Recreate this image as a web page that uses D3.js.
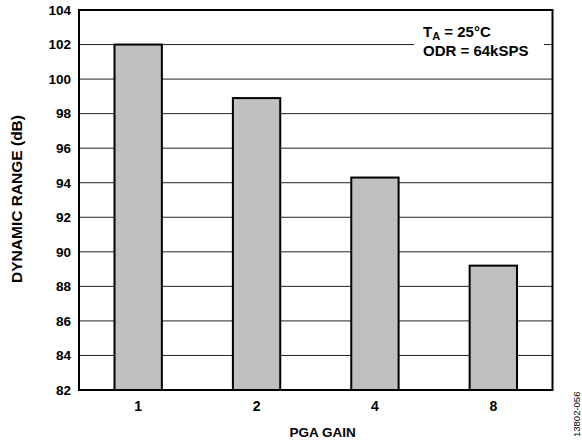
<!DOCTYPE html>
<html><head><meta charset="utf-8">
<script src="https://cdn.jsdelivr.net/npm/d3@7"></script>
<style>body{margin:0;background:#fff}svg{display:block}text{font-family:"Liberation Sans",Arial,sans-serif}</style>
</head><body><svg id="c" width="582" height="442"></svg>
<script>
const categories = ["1","2","4","8"];
const values = [102.0, 98.9, 94.3, 89.2];
const yTicks = [82,84,86,88,90,92,94,96,98,100,102,104];

const svg = d3.select("#c");
const L=79, R=552.5, T=10, B=390;
const x = d3.scaleBand().domain(categories).range([L,R]).paddingInner(0.6).paddingOuter(0.3);
const y = d3.scaleLinear().domain([82,104]).range([B,T]);
const FF = "'Liberation Sans',Arial,sans-serif";

// gridlines
svg.append("g").selectAll("line").data(yTicks.slice(1,-1)).join("line")
  .attr("x1",L).attr("x2",R).attr("y1",d=>y(d)).attr("y2",d=>y(d))
  .attr("stroke","#222").attr("stroke-width",1);

// annotation background
svg.append("rect").attr("x",414).attr("y",20).attr("width",130).attr("height",42).attr("fill","#fff");

// bars
svg.append("g").selectAll("rect").data(values).join("rect")
  .attr("x",(d,i)=>x(categories[i])).attr("width",x.bandwidth())
  .attr("y",d=>y(d)).attr("height",d=>B-y(d))
  .attr("fill","#c0c0c0").attr("stroke","#000").attr("stroke-width",2);

// frame
svg.append("rect").attr("x",L).attr("y",T).attr("width",R-L).attr("height",B-T)
  .attr("fill","none").attr("stroke","#000").attr("stroke-width",2);

// y axis
const ya = svg.append("g").attr("transform",`translate(${L},0)`)
  .call(d3.axisLeft(y).tickValues(yTicks).tickSize(0).tickPadding(8));
ya.select(".domain").remove();
ya.selectAll("text").attr("font-size","13.5px").attr("font-weight","bold").attr("fill","#000")
  .style("font-family",FF);

// x axis
const xa = svg.append("g").attr("transform",`translate(0,${B})`)
  .call(d3.axisBottom(x).tickSize(0));
xa.select(".domain").remove();
xa.selectAll("text").attr("y",21).attr("dy",0).attr("font-size","14px").attr("font-weight","bold").attr("fill","#000")
  .style("font-family",FF);

// titles
svg.append("text").attr("x",(L+R)/2+7).attr("y",437).attr("text-anchor","middle")
  .attr("font-size","13.5px").attr("font-weight","bold").text("PGA GAIN");
svg.append("text").attr("transform",`translate(22,199) rotate(-90)`).attr("text-anchor","middle")
  .attr("font-size","15.5px").attr("font-weight","bold").text("DYNAMIC RANGE (dB)");

// annotation
const a1 = svg.append("text").attr("x",423).attr("y",37).attr("font-size","15px").attr("font-weight","bold");
a1.append("tspan").text("T");
a1.append("tspan").attr("font-size","11px").attr("dy",3).text("A");
a1.append("tspan").attr("dy",-3).text(" = 25°C");
svg.append("text").attr("x",423).attr("y",56).attr("font-size","15px").attr("font-weight","bold").text("ODR = 64kSPS");

// figure id
svg.append("text").attr("transform","translate(580,437) rotate(-90)").attr("font-size","9.5px").attr("fill","#000").text("13802-056");
</script></body></html>
